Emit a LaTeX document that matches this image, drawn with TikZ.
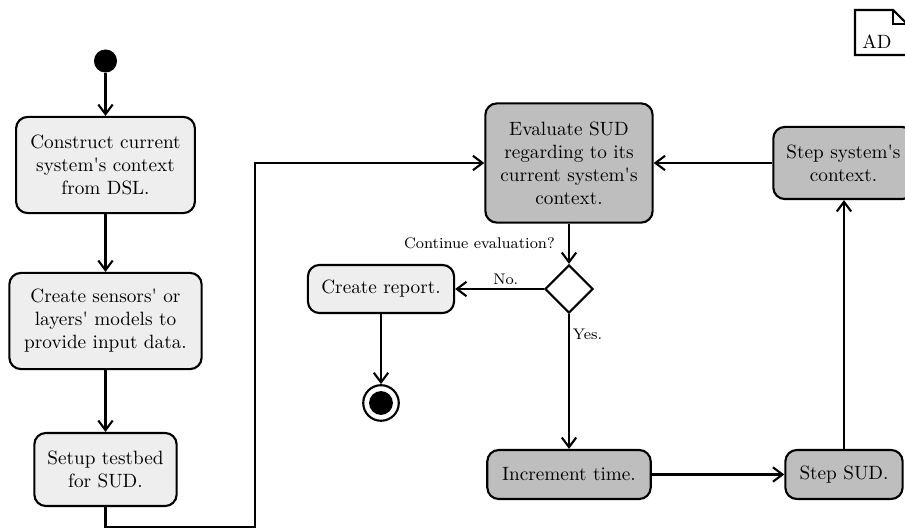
\documentclass[tikz,border=0pt]{standalone}
\usetikzlibrary{arrows.meta,shapes.geometric}
\definecolor{lightfill}{HTML}{EEEEEE}
\definecolor{darkfill}{HTML}{BEBEBE}
\begin{document}
\begin{tikzpicture}[x=0.52pt,y=-0.52pt,
  act/.style={draw,line width=1.1pt,rounded corners=6pt,align=center,inner sep=0pt,fill=lightfill},
  actd/.style={act,fill=darkfill},
  flow/.style={line width=1.1pt,-{Straight Barb[length=5pt,width=7.5pt,line width=1.1pt]}},
  lbl/.style={font=\footnotesize,inner sep=1.5pt},
  initst/.style={circle,fill=black,inner sep=0pt,minimum size=12pt},
  finst/.style={circle,draw,line width=1.1pt,inner sep=0pt,minimum size=18.5pt},
  decis/.style={diamond,draw,line width=1.1pt,fill=white,inner sep=0pt,minimum width=25pt,minimum height=25pt}]
\useasboundingbox (0,0) rectangle (905,530);

% nodes
\node[initst] (start) at (105.5,61) {};
\node[act,minimum width=93pt,minimum height=50pt] (c1) at (105.5,165)
  {Construct current\\system\textquotesingle s context\\from DSL.};
\node[act,minimum width=100pt,minimum height=50pt] (c2) at (105.5,321)
  {Create sensors\textquotesingle{} or\\layers\textquotesingle{} models to\\provide input data.};
\node[act,minimum width=74pt,minimum height=38pt] (c3) at (105.5,469.5)
  {Setup testbed\\for SUD.};
\node[actd,minimum width=87pt,minimum height=62pt] (eval) at (569,163)
  {Evaluate SUD\\regarding to its\\current system\textquotesingle s\\context.};
\node[decis] (dec) at (569,289) {};
\node[act,minimum width=76pt,minimum height=25pt] (rep) at (381,289) {Create report.};
\node[finst] (end) at (381,403) {};
\fill (end.center) circle (6.2pt);
\node[actd,minimum width=85pt,minimum height=25.5pt] (incr) at (569,474.5) {Increment time.};
\node[actd,minimum width=61pt,minimum height=25.5pt] (stepsud) at (844,474.5) {Step SUD.};
\node[actd,minimum width=73pt,minimum height=37.5pt] (stepctx) at (843.5,163)
  {Step system\textquotesingle s\\context.};

% AD note
\node[inner sep=0pt] (ad) at (877,42) {AD};
\draw[line width=1.1pt] (855,10) -- (893,10) -- (907,24) -- (907,55) -- (855,55) -- cycle;
\draw[line width=0.8pt] (893,10) -- (893,24) -- (907,24);

% labels
\node[lbl,anchor=east] (q) at (558,243) {Continue evaluation?};

% connectors
\coordinate (k1) at (255,527);
\coordinate (k2) at (255,163);
\draw[flow] (start) -- (c1);
\draw[flow] (c1) -- (c2);
\draw[flow] (c2) -- (c3);
\draw[flow] (c3.south) |- (k1) -- (k2) -- (eval.west);
\draw[flow] (eval) -- (dec);
\draw[flow] (dec.west) -- node[lbl,above,pos=0.43] {No.} (rep.east);
\draw[flow] (dec.south) -- node[lbl,right,pos=0.15] {Yes.} (incr.north);
\draw[flow] (rep) -- (end);
\draw[flow] (incr) -- (stepsud);
\draw[flow] (stepsud.north) -- (stepsud.north |- stepctx.south);
\draw[flow] (stepctx) -- (eval);
\end{tikzpicture}
\end{document}
